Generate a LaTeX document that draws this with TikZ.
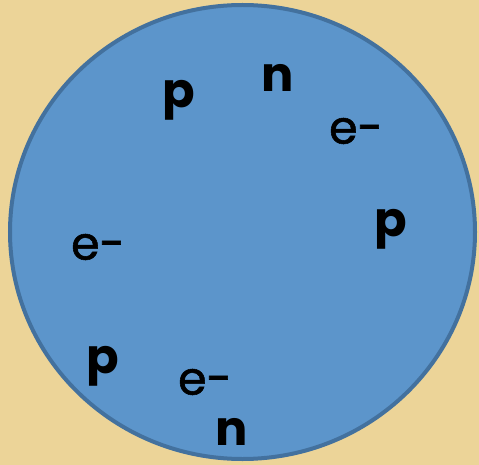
\documentclass[tikz,border=0pt]{standalone}
\usepackage{fontspec}
\setmainfont{Poppins}
\newfontfamily\boldlbl{Poppins}[UprightFont=* Bold]
\newfontfamily\elbl{Poppins}[FakeBold=1.2]
\definecolor{papyrus}{HTML}{ECD498}
\definecolor{cellfill}{HTML}{5C95CB}
\definecolor{cellline}{HTML}{43719E}
\tikzset{
  particle/.style={inner sep=0pt, text=black, font=\boldlbl\fontsize{48}{48}\selectfont},
  electron/.style={inner sep=0pt, text=black, font=\elbl\fontsize{46}{46}\selectfont},
}
\begin{document}
\begin{tikzpicture}[x=1pt,y=-1pt]
  \fill[papyrus] (0,0) rectangle (479,465);
  \useasboundingbox (0,0) rectangle (479,465);
  \draw[cellline, fill=cellfill, line width=4pt] (242.5,232) ellipse [x radius=232.5, y radius=227];
  \node[particle] (p1) at (179,100) {p};
  \node[particle] (n1) at (278,77.5) {n};
  \node[electron] (e1) at (356,131) {e-};
  \node[particle] (p2) at (391,229.5) {p};
  \node[electron] (e2) at (98,247) {e-};
  \node[particle] (p3) at (103,366) {p};
  \node[electron] (e3) at (205,382) {e-};
  \node[particle] (n2) at (232,432) {n};
\end{tikzpicture}
\end{document}
